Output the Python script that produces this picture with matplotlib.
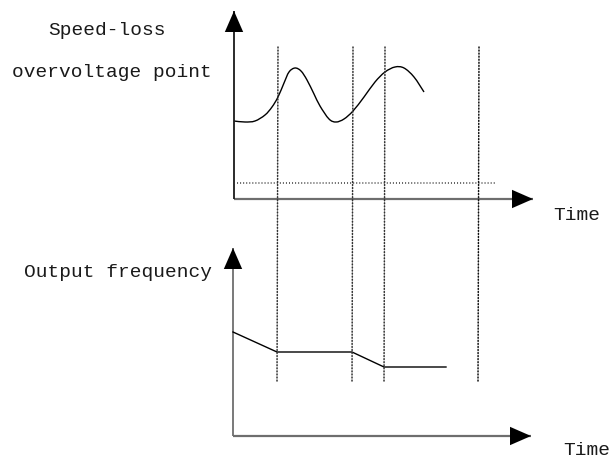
import matplotlib
matplotlib.use("Agg")
import matplotlib.pyplot as plt
from matplotlib.patches import ConnectionPatch, PathPatch
from matplotlib.path import Path

# ---------------- data ----------------
# top panel: DC bus voltage curve (time, value)
volt_t = [0.0, 1.1, 2.1, 3.1, 3.8, 4.4, 5.0, 5.5, 6.1, 6.7, 7.3, 8.0,
          8.6, 9.5, 10.2, 11.0, 11.9, 13.0, 14.1, 15.1, 16.1, 17.0, 18.0, 19.0]
volt_v = [7.8, 7.7, 7.8, 8.4, 9.2, 10.2, 11.6, 12.7, 13.1, 12.8, 11.9, 10.5,
          9.3, 8.0, 7.7, 8.0, 8.8, 10.2, 11.7, 12.7, 13.2, 13.1, 12.2, 10.7]
threshold_v = 1.6
threshold_t_end = 26.1

# bottom panel: output frequency (time, value)
freq_t = [0.0, 4.4, 11.9, 15.1, 21.3]
freq_v = [10.4, 8.4, 8.4, 6.9, 6.9]

# event times (vertical dotted lines)
event_t = [4.4, 11.9, 15.1, 24.5]
event_top_v = 15.2
event_bot_v = 5.3

top_label_lines = ["Speed-loss", "overvoltage point"]
bot_label = "Output frequency"
x_label = "Time"

# ---------------- layout ----------------
W, H = 614, 459
DPI = 100
fig = plt.figure(figsize=(W / DPI, H / DPI), dpi=DPI)
fig.patch.set_facecolor("white")

def frac_rect(x0, y_bottom, x1, y_top):
    return [x0 / W, (H - y_bottom) / H, (x1 - x0) / W, (y_bottom - y_top) / H]

ax_top = fig.add_axes(frac_rect(234, 199, 533, 11))
ax_bot = fig.add_axes(frac_rect(233, 436, 531, 248))
ax_top.set_xlim(0, 29.9)
ax_top.set_ylim(0, 18.8)
ax_bot.set_xlim(0, 29.8)
ax_bot.set_ylim(0, 18.8)

for ax in (ax_top, ax_bot):
    ax.set_axis_off()

AX_GRAY = "#6e6e6e"
DOT_GRAY = "#333333"
DOT_LW = 1.1
DOT_STYLE = (0, (0.65, 1.35))

def draw_axes_arrows(ax, vcolor):
    ax.plot([0, 1], [0, 0], color=AX_GRAY, lw=1.6, transform=ax.transAxes,
            solid_capstyle="butt", clip_on=False)
    ax.plot([0, 0], [0, 1], color=vcolor, lw=1.3, transform=ax.transAxes,
            solid_capstyle="butt", clip_on=False)
    style = "-|>,head_length=1.51,head_width=0.66"
    ax.annotate("", xy=(1, 0), xytext=(0.9, 0), xycoords="axes fraction",
                arrowprops=dict(arrowstyle=style, mutation_scale=10, color="black",
                                lw=0.01, shrinkA=0, shrinkB=0))
    ax.annotate("", xy=(0, 1), xytext=(0, 0.9), xycoords="axes fraction",
                arrowprops=dict(arrowstyle=style, mutation_scale=10, color="black",
                                lw=0.01, shrinkA=0, shrinkB=0))

draw_axes_arrows(ax_top, "#1a1a1a")
draw_axes_arrows(ax_bot, AX_GRAY)

# smooth curve through the read points (Catmull-Rom drawn as cubic Bezier path)
def smooth_path(xs, ys):
    pts = list(zip(xs, ys))
    n = len(pts)
    verts = [pts[0]]
    codes = [Path.MOVETO]
    for i in range(n - 1):
        p0 = pts[i - 1] if i > 0 else pts[i]
        p1 = pts[i]
        p2 = pts[i + 1]
        p3 = pts[i + 2] if i + 2 < n else pts[i + 1]
        c1 = (p1[0] + (p2[0] - p0[0]) / 6.0, p1[1] + (p2[1] - p0[1]) / 6.0)
        c2 = (p2[0] - (p3[0] - p1[0]) / 6.0, p2[1] - (p3[1] - p1[1]) / 6.0)
        verts += [c1, c2, p2]
        codes += [Path.CURVE4] * 3
    return Path(verts, codes)

ax_top.add_patch(PathPatch(smooth_path(volt_t, volt_v), facecolor="none",
                           edgecolor="black", lw=1.0, clip_on=False))
ax_top.plot([0, threshold_t_end], [threshold_v, threshold_v], color=DOT_GRAY,
            lw=DOT_LW, linestyle=DOT_STYLE, clip_on=False)
ax_bot.plot(freq_t, freq_v, color="black", lw=1.0, clip_on=False)

# event dotted lines spanning both panels
for i, t in enumerate(event_t):
    cp = ConnectionPatch(xyA=(t, event_top_v), coordsA=ax_top.transData,
                         xyB=(t, event_bot_v), coordsB=ax_bot.transData,
                         color="#111111" if i == len(event_t) - 1 else DOT_GRAY,
                         lw=DOT_LW, linestyle=DOT_STYLE)
    fig.add_artist(cp)

# ---------------- text ----------------
FONT = ["Liberation Mono", "DejaVu Sans Mono"]
TXT = "#1a1a1a"
FS = 14

def ftext(x, y, s, ha):
    fig.text(x / W, (H - y) / H, s, ha=ha, va="baseline", fontsize=FS,
             family=FONT, color=TXT)

ftext(107, 35, top_label_lines[0], "center")
ftext(112, 77, top_label_lines[1], "center")
ftext(553, 220, x_label, "left")
ftext(118, 277, bot_label, "center")
ftext(563, 455, x_label, "left")

fig.savefig("out.png", dpi=DPI, facecolor="white")
